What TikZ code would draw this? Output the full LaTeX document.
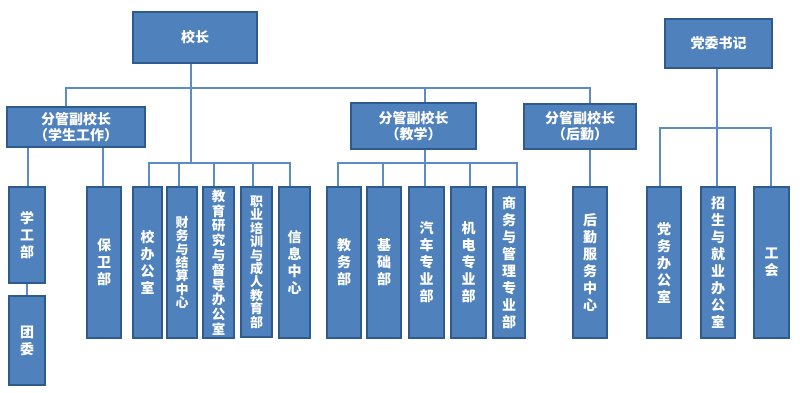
\documentclass[tikz,border=0pt]{standalone}
\usepackage{fontspec}
\newfontfamily\cjk{Noto Sans CJK SC}
\definecolor{bfill}{HTML}{4F81BD}
\definecolor{bdr}{HTML}{2E5A8E}
\definecolor{lne}{HTML}{5B8CC8}
\begin{document}
\begin{tikzpicture}[x=1pt,y=-1pt,
  box/.style={draw=bdr, fill=bfill, line width=1.6pt, text=white, inner sep=0pt,
    align=center, font={\cjk\bfseries\fontsize{14}{16}\selectfont}},
  vbox/.style={box, minimum height=151pt, font={\cjk\bfseries\fontsize{14}{17}\selectfont}},
  tight/.style={font={\cjk\bfseries\fontsize{13}{13.4}\selectfont}},
  mid/.style={font={\cjk\bfseries\fontsize{13.5}{14.8}\selectfont}},
  conn/.style={draw=lne, line width=1.2pt}]
\useasboundingbox (0,0) rectangle (800,392);
% top level
\node[box, minimum width=124pt, minimum height=51pt] (xz) at (195,37.5) {校长};
\node[box, minimum width=107pt, minimum height=49pt] (dw) at (718.5,43.5) {党委书记};
% vice principals
\node[box, minimum width=138pt, minimum height=40pt] (fx1) at (76,127) {分管副校长\\（学生工作）};
\node[box, minimum width=125pt, minimum height=46pt] (fx2) at (413.5,126) {分管副校长\\（教学）};
\node[box, minimum width=112pt, minimum height=45pt] (fx3) at (580,126.5) {分管副校长\\（后勤）};
% departments
\node[vbox, minimum width=36pt, minimum height=96pt] (xgb) at (27,235) {学\\工\\部};
\node[vbox, minimum width=36pt, minimum height=89pt] (tw) at (27,340.5) {团\\委};
\node[vbox, minimum width=34pt] (bwb) at (104,262.5) {保\\卫\\部};
\node[vbox, minimum width=29pt] (xbgs) at (147.5,262.5) {校\\办\\公\\室};
\node[vbox, tight, minimum width=30pt] (cw) at (182,262.5) {财\\务\\与\\结\\算\\中\\心};
\node[vbox, mid, minimum width=31pt] (jy) at (218.5,262.5) {教\\育\\研\\究\\与\\督\\导\\办\\公\\室};
\node[vbox, tight, minimum width=31pt, minimum height=150pt] (zy) at (256.5,262) {职\\业\\培\\训\\与\\成\\人\\教\\育\\部};
\node[vbox, minimum width=31pt] (xx) at (294.5,262.5) {信\\息\\中\\心};
\node[vbox, minimum width=34pt] (jwb) at (344,262.5) {教\\务\\部};
\node[vbox, minimum width=34pt] (jcb) at (384,262.5) {基\\础\\部};
\node[vbox, minimum width=35pt] (qc) at (426.5,262.5) {汽\\车\\专\\业\\部};
\node[vbox, minimum width=35pt] (jd) at (468.5,262.5) {机\\电\\专\\业\\部};
\node[vbox, minimum width=32pt] (sw) at (509,262.5) {商\\务\\与\\管\\理\\专\\业\\部};
\node[vbox, minimum width=34pt] (hq) at (590,262.5) {后\\勤\\服\\务\\中\\心};
\node[vbox, minimum width=34pt] (dwbgs) at (664,262.5) {党\\务\\办\\公\\室};
\node[vbox, minimum width=34pt] (zs) at (718,262.5) {招\\生\\与\\就\\业\\办\\公\\室};
\node[vbox, minimum width=35pt] (gh) at (771.5,262.5) {工\\会};
% bus coordinates
\coordinate (busA) at (0,88);
\coordinate (busB) at (0,163);
\coordinate (busD) at (0,128);
% connectors: principal
\draw[conn] ([xshift=-4pt]xz.south) -- ([xshift=-4pt]xz.south |- busB);
\draw[conn] ([xshift=-4pt]xz.south |- busA) -| ([xshift=-10pt]fx1.north);
\draw[conn] ([xshift=-4pt]xz.south |- busA) -| ([xshift=11.5pt]fx2.north);
\draw[conn] ([xshift=-4pt]xz.south |- busA) -| ([xshift=10pt]fx3.north);
\foreach \c/\s in {xbgs/1.5, cw/-3, jy/-4.5, zy/-3.5, xx/-4.5}
  \draw[conn] ([xshift=-4pt]xz.south |- busB) -| ([xshift=\s pt]\c.north);
% student affairs
\draw[conn] ([xshift=1pt]xgb.north |- fx1.south) -- ([xshift=1pt]xgb.north);
\draw[conn] ([xshift=-1pt]bwb.north |- fx1.south) -- ([xshift=-1pt]bwb.north);
\draw[conn] (xgb.south) -- (tw.north);
% teaching
\draw[conn] ([xshift=11.5pt]fx2.south) -- ([xshift=11.5pt]fx2.south |- busB);
\foreach \c/\s in {jwb/-6, jcb/-1, qc/-1.5, jd/1.5, sw/8}
  \draw[conn] ([xshift=11.5pt]fx2.south |- busB) -| ([xshift=\s pt]\c.north);
% logistics
\draw[conn] (hq.north |- fx3.south) -- (hq.north);
% party
\draw[conn] ([xshift=-1.5pt]dw.south) -- ([xshift=-1.5pt]dw.south |- busD);
\foreach \c/\s in {dwbgs/-4, zs/-1, gh/-0.5}
  \draw[conn] ([xshift=-1.5pt]dw.south |- busD) -| ([xshift=\s pt]\c.north);
\end{tikzpicture}
\end{document}
